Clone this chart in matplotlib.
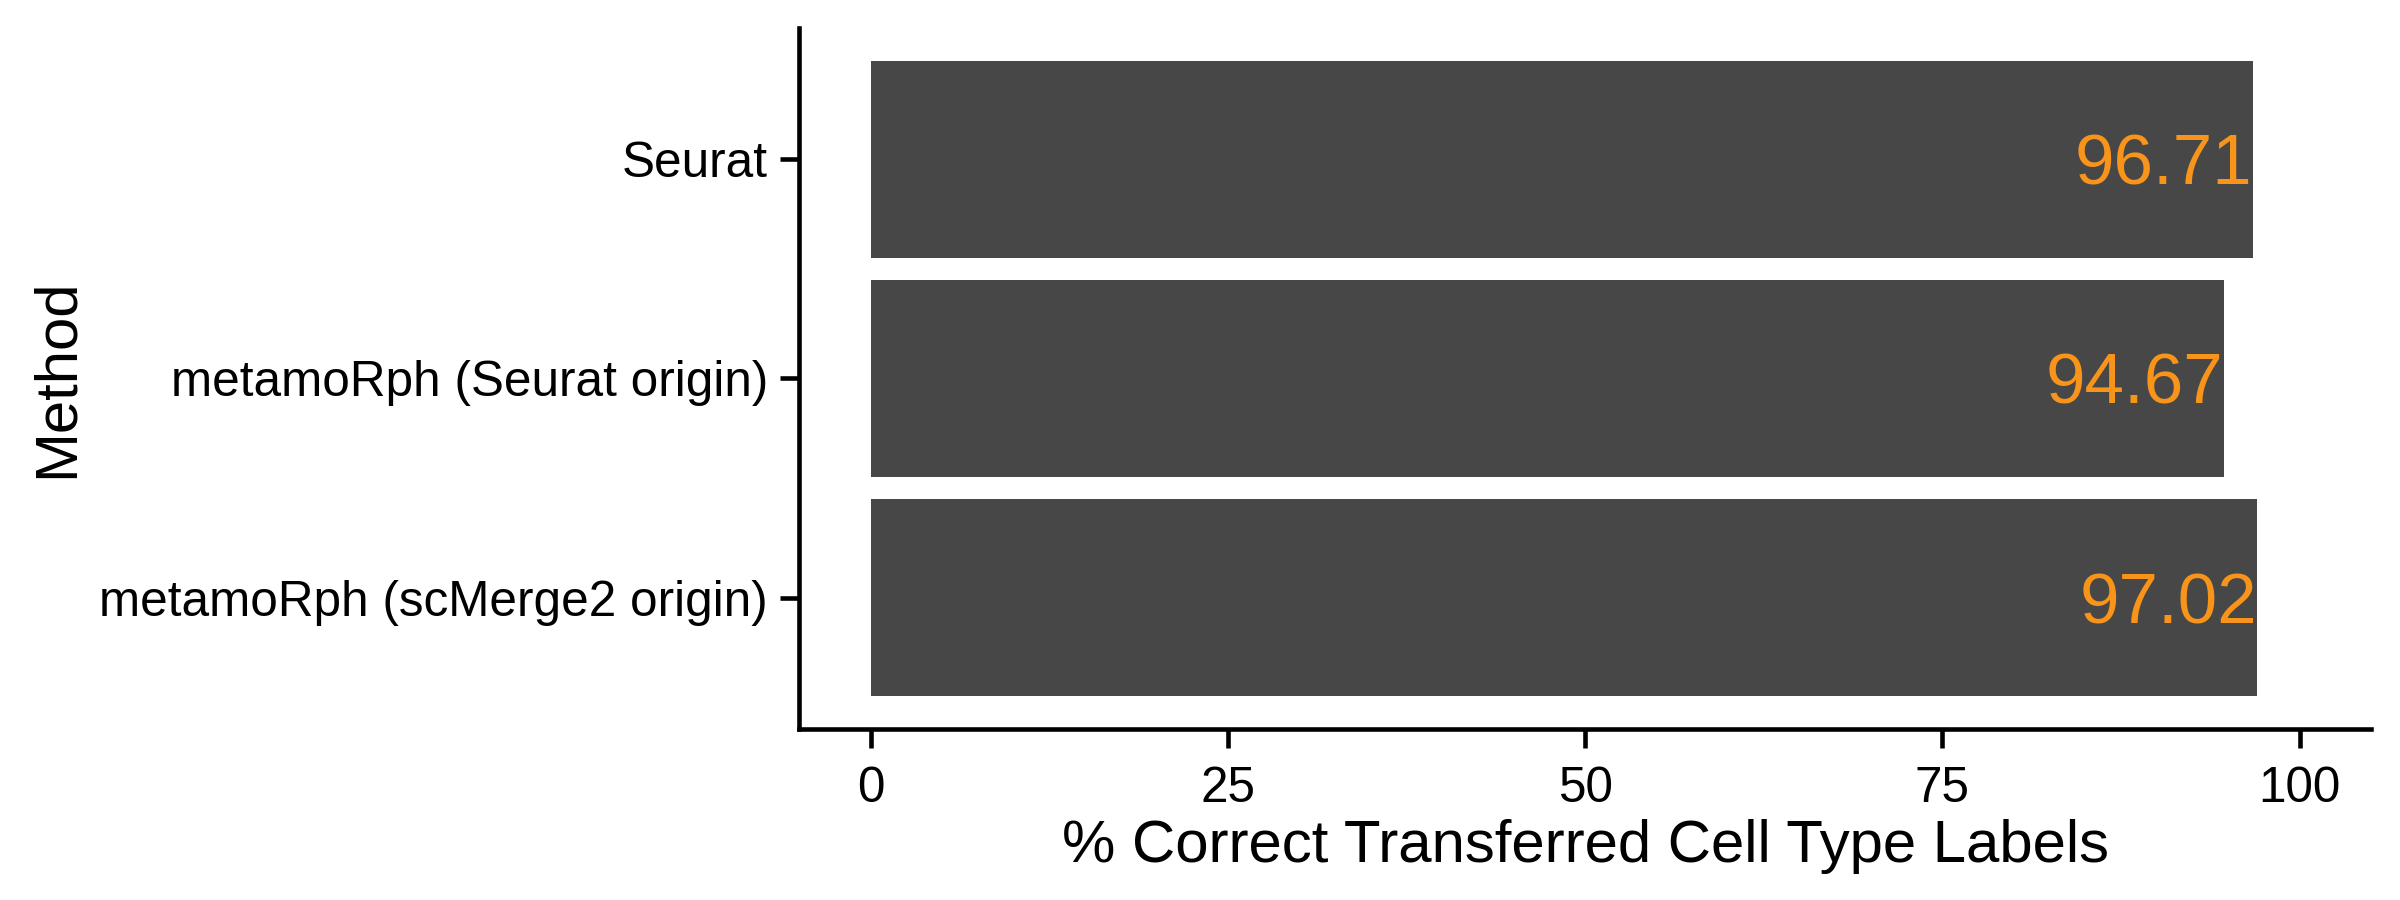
import numpy as np
import matplotlib
matplotlib.use('Agg')
import matplotlib.pyplot as plt

plt.rcParams['font.family'] = ['Liberation Sans', 'DejaVu Sans']

methods = ['metamoRph (scMerge2 origin)', 'metamoRph (Seurat origin)', 'Seurat']
pct_correct = [97.02, 94.67, 96.71]
xticks = [0, 25, 50, 75, 100]

fig, ax = plt.subplots(figsize=(8, 3), dpi=300)
fig.subplots_adjust(left=0.333, right=0.988, top=0.969, bottom=0.19)

ypos = np.arange(1, len(methods) + 1)
ax.barh(ypos, pct_correct, height=0.9, color='#474747')
for y, v in zip(ypos, pct_correct):
    ax.text(v, y, f'{v:.2f}', ha='right', va='center_baseline', color='#F8941A', fontsize=17)

ax.set_xlim(-5, 105)
ax.set_ylim(0.4, 3.6)
ax.set_yticks(ypos)
ax.set_yticklabels(methods)
ax.set_xticks(xticks)
ax.tick_params(axis='both', labelsize=11.9, length=4.5, width=1.1, color='black', pad=3)
ax.tick_params(axis='x', pad=4.5)

ax.spines['top'].set_visible(False)
ax.spines['right'].set_visible(False)
ax.spines['left'].set_linewidth(1.1)
ax.spines['bottom'].set_linewidth(1.1)

ax.set_xlabel('% Correct Transferred Cell Type Labels', fontsize=14.4, labelpad=1.5)
ax.set_ylabel('Method', fontsize=14.4, labelpad=3.5)

fig.savefig('out.png', dpi=300)
